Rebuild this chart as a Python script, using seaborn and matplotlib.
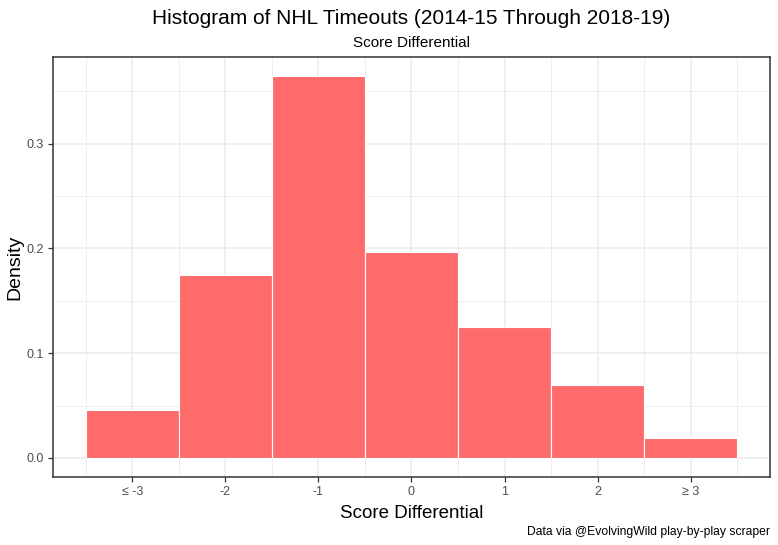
"""Histogram of NHL timeouts by score differential."""

import numpy as np
import pandas as pd
import matplotlib
matplotlib.use('Agg')
import matplotlib.pyplot as plt
import seaborn as sns
from matplotlib.ticker import MultipleLocator, FormatStrFormatter

# data
score_diff = [-3, -2, -1, 0, 1, 2, 3]
tick_labels = ['\u2264 -3', '-2', '-1', '0', '1', '2', '\u2265 3']
density = [0.0459, 0.175, 0.3645, 0.197, 0.125, 0.0698, 0.0191]

df = pd.DataFrame({'diff': score_diff, 'density': density})

sns.set_style('white')
plt.rcParams['font.family'] = ['Liberation Sans', 'DejaVu Sans']

fig = plt.figure(figsize=(7.78, 5.45), dpi=100)
ax = fig.add_axes([53 / 778, 1 - 477 / 545, (770 - 53) / 778, (477 - 57) / 545])

sns.histplot(data=df, x='diff', weights='density', discrete=True, shrink=1,
             color='#FF6B6B', alpha=1, edgecolor='white', linewidth=0.8,
             ax=ax, zorder=3)

# ggplot-like expansion
ax.set_xlim(-3.85, 3.85)
ymax = max(density)
ax.set_ylim(-0.05 * ymax, ymax * 1.05)

ax.set_xticks(score_diff)
ax.set_xticklabels(tick_labels)
ax.xaxis.set_minor_locator(MultipleLocator(0.5))
ax.yaxis.set_major_locator(MultipleLocator(0.1))
ax.yaxis.set_minor_locator(MultipleLocator(0.05))
ax.yaxis.set_major_formatter(FormatStrFormatter('%.1f'))

ax.grid(which='major', color='#EBEBEB', linewidth=1.1, zorder=0)
ax.grid(which='minor', color='#EBEBEB', linewidth=0.6, zorder=0)
ax.set_axisbelow(True)

for s in ax.spines.values():
    s.set_color('#333333')
    s.set_linewidth(1.1)

ax.tick_params(which='major', length=3.5, width=0.9, color='#333333',
               labelsize=9, labelcolor='#4D4D4D', pad=3, left=True, bottom=True)
ax.tick_params(which='minor', length=0)

ax.set_xlabel('Score Differential', fontsize=13.5, color='black', labelpad=5)
ax.set_ylabel('Density', fontsize=14, color='black', labelpad=2)

cx = (53 + 770) / 2 / 778
fig.text(cx, 1 - 18 / 545, 'Histogram of NHL Timeouts (2014-15 Through 2018-19)',
         ha='center', va='center', fontsize=15, color='black')
fig.text(cx, 1 - 43 / 545, 'Score Differential',
         ha='center', va='center', fontsize=11, color='black')
fig.text(770 / 778, 1 - 532 / 545, 'Data via @EvolvingWild play-by-play scraper',
         ha='right', va='center', fontsize=8.7, color='black')

fig.savefig('out.png', dpi=100)
